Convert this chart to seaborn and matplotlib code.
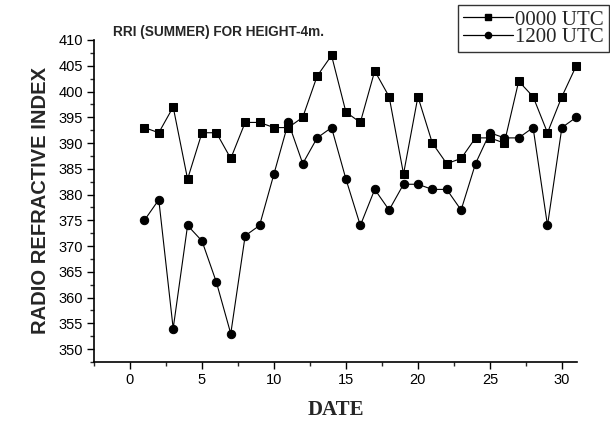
import matplotlib
matplotlib.use("Agg")
import matplotlib.pyplot as plt
import seaborn as sns
import pandas as pd
from matplotlib.ticker import MultipleLocator
from matplotlib.lines import Line2D

days = list(range(1, 32))
utc0000 = [393, 392, 397, 383, 392, 392, 387, 394, 394, 393, 393, 395, 403, 407, 396, 394,
           404, 399, 384, 399, 390, 386, 387, 391, 391, 390, 402, 399, 392, 399, 405]
utc1200 = [375, 379, 354, 374, 371, 363, 353, 372, 374, 384, 394, 386, 391, 393, 383, 374,
           381, 377, 382, 382, 381, 381, 377, 386, 392, 391, 391, 393, 374, 393, 395]
series_names = ["0000 UTC", "1200 UTC"]

df = pd.concat([
    pd.DataFrame({"DATE": days, "RRI": utc0000, "series": series_names[0]}),
    pd.DataFrame({"DATE": days, "RRI": utc1200, "series": series_names[1]}),
])

sns.set_style("ticks")
plt.rcParams["font.family"] = ["Liberation Sans", "DejaVu Sans"]

fig = plt.figure(figsize=(6.1, 4.23), dpi=100)
ax = fig.add_axes([94/610, 1-362/423, (577-94)/610, (362-40)/423])

sns.lineplot(data=df, x="DATE", y="RRI", hue="series", style="series",
             markers={"0000 UTC": "s", "1200 UTC": "o"}, dashes=False,
             palette={"0000 UTC": "black", "1200 UTC": "black"},
             markersize=6, linewidth=0.8, markeredgecolor="black",
             ax=ax, legend=False, clip_on=False)

ax.set_xlim(-2.5, 31.05)
ax.set_ylim(347.5, 410)
ax.xaxis.set_major_locator(MultipleLocator(5))
ax.xaxis.set_minor_locator(MultipleLocator(2.5))
ax.yaxis.set_major_locator(MultipleLocator(5))
ax.yaxis.set_minor_locator(MultipleLocator(2.5))
ax.tick_params(which="major", direction="out", length=5, width=1, labelsize=10.5, colors="black", pad=3)
ax.tick_params(which="minor", direction="out", length=3, width=1)
for s in ["top", "right"]:
    ax.spines[s].set_visible(False)
for s in ["left", "bottom"]:
    ax.spines[s].set_linewidth(1.2)
    ax.spines[s].set_color("black")

ax.set_xlabel("DATE", fontfamily="Liberation Serif", fontweight="bold", fontsize=15, labelpad=9)
ax.set_ylabel("RADIO REFRACTIVE INDEX", fontweight="bold", fontsize=14.5, labelpad=6)

fig.text(113/610, 1-36/423, "RRI (SUMMER) FOR HEIGHT-4m.", fontsize=9.8, fontweight="bold",
         ha="left", va="baseline")

handles = [Line2D([], [], color="black", marker="s", markersize=4.5, linewidth=0.9),
           Line2D([], [], color="black", marker="o", markersize=4.5, linewidth=0.9)]
leg = fig.legend(handles, series_names, loc="upper right", bbox_to_anchor=(609/610, 1-5/423),
                 borderaxespad=0, frameon=True, fancybox=False, edgecolor="black",
                 prop={"family": "Liberation Serif", "size": 15}, handlelength=2.4,
                 labelspacing=-0.1, handletextpad=0.1, borderpad=0.25)
leg.get_frame().set_linewidth(1.0)

fig.savefig("out.png", dpi=100)
